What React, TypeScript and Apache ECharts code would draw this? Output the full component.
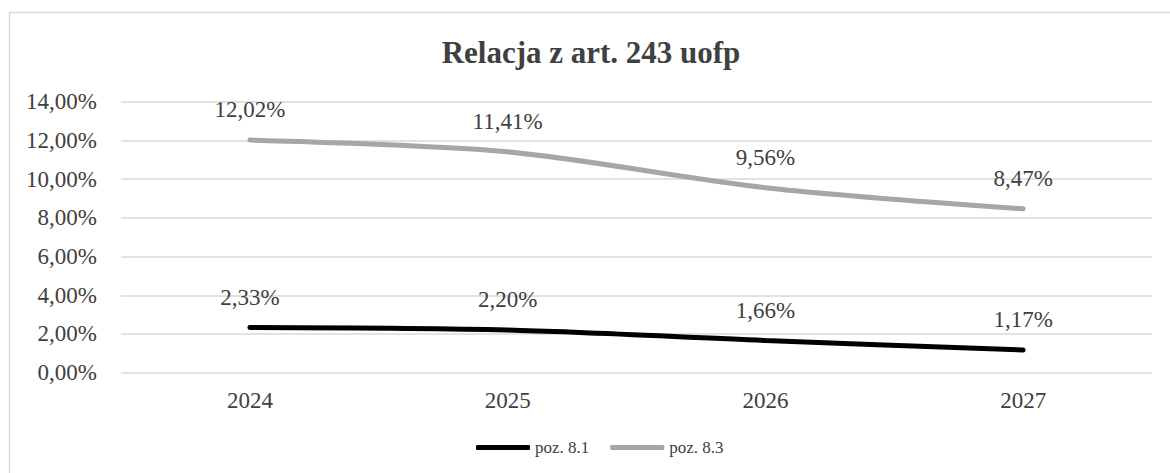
import React, { useEffect, useRef } from "react";
import * as echarts from "echarts";

const categories = ["2024", "2025", "2026", "2027"];
const poz81 = [2.33, 2.2, 1.66, 1.17];
const poz83 = [12.02, 11.41, 9.56, 8.47];
const seriesNames = ["poz. 8.1", "poz. 8.3"];
const titleText = "Relacja z art. 243 uofp";

const FONT = "'Liberation Serif', 'Times New Roman', serif";
const fmt = (v: number) => v.toFixed(2).replace(".", ",") + "%";

export default function App() {
  const ref = useRef<HTMLDivElement>(null);
  useEffect(() => {
    if (!ref.current) return;
    const chart = echarts.init(ref.current, undefined, { renderer: "svg" });
    const labelStyle = {
      show: true,
      position: "top" as const,
      distance: 19,
      fontFamily: FONT,
      fontSize: 23,
      color: "#404040",
      formatter: (p: any) => fmt(p.value),
    };
    chart.setOption({
      animation: false,
      backgroundColor: "#ffffff",
      graphic: [
        {
          type: "rect",
          shape: { x: 9.5, y: 12.5, width: 1200, height: 500 },
          style: { fill: "none", stroke: "#d9d9d9", lineWidth: 1.5 },
          silent: true,
          z: -1,
        },
        {
          type: "text",
          x: 591,
          y: 52,
          style: {
            text: titleText,
            font: `bold 31px ${FONT}`,
            fill: "#404040",
            textAlign: "center",
            textVerticalAlign: "middle",
          },
        },
      ],
      grid: { left: 121, right: 18, top: 101.7, bottom: 100.3, containLabel: false },
      legend: {
        left: 476,
        top: 439,
        padding: 0,
        itemGap: 21,
        itemWidth: 54,
        itemHeight: 5,
        icon: "roundRect",
        textStyle: { fontFamily: FONT, fontSize: 17, color: "#404040" },
        data: seriesNames,
      },
      xAxis: {
        type: "category",
        data: categories,
        boundaryGap: true,
        axisLine: { show: false },
        axisTick: { show: false },
        axisLabel: { margin: 16, fontFamily: FONT, fontSize: 23, color: "#404040" },
      },
      yAxis: {
        type: "value",
        min: 0,
        max: 14,
        interval: 2,
        axisLine: { show: false },
        axisTick: { show: false },
        axisLabel: {
          margin: 24,
          fontFamily: FONT,
          fontSize: 23,
          color: "#404040",
          formatter: (v: number) => fmt(v),
        },
        splitLine: { lineStyle: { color: "#d9d9d9", width: 1.5 } },
      },
      series: [
        {
          name: seriesNames[0],
          type: "line",
          data: poz81,
          smooth: 0.3,
          showSymbol: true,
          symbol: "circle",
          symbolSize: 0,
          itemStyle: { color: "#000000" },
          lineStyle: { color: "#000000", width: 5, cap: "round" },
          label: labelStyle,
        },
        {
          name: seriesNames[1],
          type: "line",
          data: poz83,
          smooth: 0.3,
          showSymbol: true,
          symbol: "circle",
          symbolSize: 0,
          itemStyle: { color: "#a6a6a6" },
          lineStyle: { color: "#a6a6a6", width: 5, cap: "round" },
          label: labelStyle,
        },
      ],
    });
    return () => chart.dispose();
  }, []);
  return (
    <div
      ref={ref}
      style={{ position: "fixed", left: 0, top: 0, width: 1170, height: 473 }}
    />
  );
}
